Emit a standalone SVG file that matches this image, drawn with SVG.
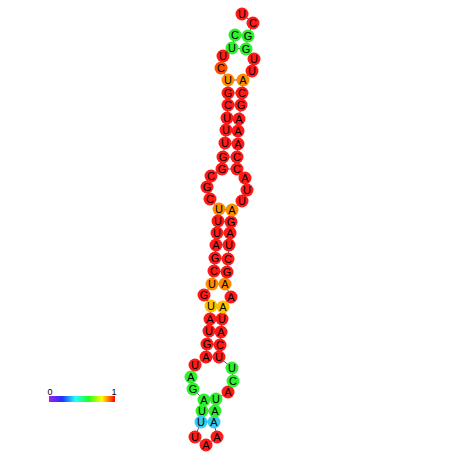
<svg xmlns="http://www.w3.org/2000/svg" width="452" height="452" viewBox="0 0 452 452">
<style>
.bb{stroke:#333;stroke-width:0.8;fill:none}
.pr{stroke:#333;stroke-width:0.8}
circle{stroke-width:0}
.r{fill:#ff1a1a}.o{fill:#ff8c00}.or{fill:#ff4d00}.y{fill:#ffbf00}.g{fill:#2ef02e}.c{fill:#33ccee}
text{font-family:"Liberation Sans",Arial,sans-serif;font-size:11px;fill:#000;text-anchor:middle;dominant-baseline:central}
</style>
<defs>
<linearGradient id="cb" x1="0" x2="1" y1="0" y2="0">
<stop offset="0" stop-color="#a020f0"/><stop offset="0.2" stop-color="#2030ff"/><stop offset="0.4" stop-color="#20ffff"/><stop offset="0.6" stop-color="#20ff20"/><stop offset="0.8" stop-color="#ffff00"/><stop offset="1" stop-color="#ff0000"/>
</linearGradient>
</defs>
<rect width="452" height="452" fill="#fff"/>
<g id="connectors">
<polyline class="bb" points="235,35 232,48 223,56 221,68 228,80 228,93 228,105 227,118 226,130 225,143 223,157 222,169 211,176 207,187 210,199 219,209 218,221 217,233 216,245 215,258 214,271 212,284 204,295 211,306 210,319 209,331 207,344 206,357 195,365 191,377 193,389 204,400 202,411 201,422 195,437 206,445 217,437 214,422 215,411 216,399 228,392 233,381 232,368 219,357 220,345 221,332 222,319 223,307 231,297 225,284 227,272 228,259 229,245 230,233 231,222 232,210 242,201 247,190 245,178 237,169 237,157 238,144 238,131 239,119 241,105 242,93 243,80 252,71 254,59 246,49 248,36 253,23 242,14"/>
<line class="pr" x1="235" y1="35" x2="248" y2="36"/>
<line class="pr" x1="232" y1="48" x2="246" y2="49"/>
<line class="pr" x1="228" y1="80" x2="243" y2="80"/>
<line class="pr" x1="228" y1="93" x2="242" y2="93"/>
<line class="pr" x1="228" y1="105" x2="241" y2="105"/>
<line class="pr" x1="227" y1="118" x2="239" y2="119"/>
<line class="pr" x1="226" y1="130" x2="238" y2="131"/>
<line class="pr" x1="225" y1="143" x2="238" y2="144"/>
<line class="pr" x1="223" y1="157" x2="237" y2="157"/>
<line class="pr" x1="222" y1="169" x2="237" y2="169"/>
<line class="pr" x1="219" y1="209" x2="232" y2="210"/>
<line class="pr" x1="218" y1="221" x2="231" y2="222"/>
<line class="pr" x1="217" y1="233" x2="230" y2="233"/>
<line class="pr" x1="216" y1="245" x2="229" y2="245"/>
<line class="pr" x1="215" y1="258" x2="228" y2="259"/>
<line class="pr" x1="214" y1="271" x2="227" y2="272"/>
<line class="pr" x1="212" y1="284" x2="225" y2="284"/>
<line class="pr" x1="211" y1="306" x2="223" y2="307"/>
<line class="pr" x1="210" y1="319" x2="222" y2="319"/>
<line class="pr" x1="209" y1="331" x2="221" y2="332"/>
<line class="pr" x1="207" y1="344" x2="220" y2="345"/>
<line class="pr" x1="206" y1="357" x2="219" y2="357"/>
<line class="pr" x1="204" y1="400" x2="216" y2="399"/>
<line class="pr" x1="202" y1="411" x2="215" y2="411"/>
<line class="pr" x1="201" y1="422" x2="214" y2="422"/>
</g>
<g id="n1"><circle class="g" cx="235" cy="35" r="6.5"/><text x="235" y="35">C</text></g>
<g id="n2"><circle class="g" cx="232" cy="48" r="6.5"/><text x="232" y="48">U</text></g>
<g id="n3"><circle class="r" cx="223" cy="56" r="6.5"/><text x="223" y="56">U</text></g>
<g id="n4"><circle class="or" cx="221" cy="68" r="6.5"/><text x="221" y="68">C</text></g>
<g id="n5"><circle class="o" cx="228" cy="80" r="6.5"/><text x="228" y="80">U</text></g>
<g id="n6"><circle class="r" cx="228" cy="93" r="6.5"/><text x="228" y="93">G</text></g>
<g id="n7"><circle class="r" cx="228" cy="105" r="6.5"/><text x="228" y="105">C</text></g>
<g id="n8"><circle class="r" cx="227" cy="118" r="6.5"/><text x="227" y="118">U</text></g>
<g id="n9"><circle class="r" cx="226" cy="130" r="6.5"/><text x="226" y="130">U</text></g>
<g id="n10"><circle class="r" cx="225" cy="143" r="6.5"/><text x="225" y="143">U</text></g>
<g id="n11"><circle class="r" cx="223" cy="157" r="6.5"/><text x="223" y="157">G</text></g>
<g id="n12"><circle class="r" cx="222" cy="169" r="6.5"/><text x="222" y="169">G</text></g>
<g id="n13"><circle class="r" cx="211" cy="176" r="6.5"/><text x="211" y="176">C</text></g>
<g id="n14"><circle class="r" cx="207" cy="187" r="6.5"/><text x="207" y="187">G</text></g>
<g id="n15"><circle class="r" cx="210" cy="199" r="6.5"/><text x="210" y="199">C</text></g>
<g id="n16"><circle class="o" cx="219" cy="209" r="6.5"/><text x="219" y="209">U</text></g>
<g id="n17"><circle class="r" cx="218" cy="221" r="6.5"/><text x="218" y="221">U</text></g>
<g id="n18"><circle class="r" cx="217" cy="233" r="6.5"/><text x="217" y="233">U</text></g>
<g id="n19"><circle class="r" cx="216" cy="245" r="6.5"/><text x="216" y="245">A</text></g>
<g id="n20"><circle class="r" cx="215" cy="258" r="6.5"/><text x="215" y="258">G</text></g>
<g id="n21"><circle class="r" cx="214" cy="271" r="6.5"/><text x="214" y="271">C</text></g>
<g id="n22"><circle class="o" cx="212" cy="284" r="6.5"/><text x="212" y="284">U</text></g>
<g id="n23"><circle class="r" cx="204" cy="295" r="6.5"/><text x="204" y="295">G</text></g>
<g id="n24"><circle class="y" cx="211" cy="306" r="6.5"/><text x="211" y="306">U</text></g>
<g id="n25"><circle class="r" cx="210" cy="319" r="6.5"/><text x="210" y="319">A</text></g>
<g id="n26"><circle class="r" cx="209" cy="331" r="6.5"/><text x="209" y="331">U</text></g>
<g id="n27"><circle class="r" cx="207" cy="344" r="6.5"/><text x="207" y="344">G</text></g>
<g id="n28"><circle class="r" cx="206" cy="357" r="6.5"/><text x="206" y="357">A</text></g>
<g id="n29"><circle class="r" cx="195" cy="365" r="6.5"/><text x="195" y="365">U</text></g>
<g id="n30"><circle class="g" cx="191" cy="377" r="6.5"/><text x="191" y="377">A</text></g>
<g id="n31"><circle class="g" cx="193" cy="389" r="6.5"/><text x="193" y="389">G</text></g>
<g id="n32"><circle class="g" cx="204" cy="400" r="6.5"/><text x="204" y="400">A</text></g>
<g id="n33"><circle class="g" cx="202" cy="411" r="6.5"/><text x="202" y="411">U</text></g>
<g id="n34"><circle class="c" cx="201" cy="422" r="6.5"/><text x="201" y="422">U</text></g>
<g id="n35"><circle class="r" cx="195" cy="437" r="6.5"/><text x="195" y="437">U</text></g>
<g id="n36"><circle class="r" cx="206" cy="445" r="6.5"/><text x="206" y="445">A</text></g>
<g id="n37"><circle class="r" cx="217" cy="437" r="6.5"/><text x="217" y="437">A</text></g>
<g id="n38"><circle class="c" cx="214" cy="422" r="6.5"/><text x="214" y="422">A</text></g>
<g id="n39"><circle class="g" cx="215" cy="411" r="6.5"/><text x="215" y="411">A</text></g>
<g id="n40"><circle class="g" cx="216" cy="399" r="6.5"/><text x="216" y="399">U</text></g>
<g id="n41"><circle class="r" cx="228" cy="392" r="6.5"/><text x="228" y="392">A</text></g>
<g id="n42"><circle class="g" cx="233" cy="381" r="6.5"/><text x="233" y="381">C</text></g>
<g id="n43"><circle class="g" cx="232" cy="368" r="6.5"/><text x="232" y="368">U</text></g>
<g id="n44"><circle class="r" cx="219" cy="357" r="6.5"/><text x="219" y="357">U</text></g>
<g id="n45"><circle class="r" cx="220" cy="345" r="6.5"/><text x="220" y="345">C</text></g>
<g id="n46"><circle class="r" cx="221" cy="332" r="6.5"/><text x="221" y="332">A</text></g>
<g id="n47"><circle class="r" cx="222" cy="319" r="6.5"/><text x="222" y="319">U</text></g>
<g id="n48"><circle class="y" cx="223" cy="307" r="6.5"/><text x="223" y="307">A</text></g>
<g id="n49"><circle class="r" cx="231" cy="297" r="6.5"/><text x="231" y="297">A</text></g>
<g id="n50"><circle class="o" cx="225" cy="284" r="6.5"/><text x="225" y="284">A</text></g>
<g id="n51"><circle class="r" cx="227" cy="272" r="6.5"/><text x="227" y="272">G</text></g>
<g id="n52"><circle class="r" cx="228" cy="259" r="6.5"/><text x="228" y="259">C</text></g>
<g id="n53"><circle class="r" cx="229" cy="245" r="6.5"/><text x="229" y="245">U</text></g>
<g id="n54"><circle class="r" cx="230" cy="233" r="6.5"/><text x="230" y="233">A</text></g>
<g id="n55"><circle class="r" cx="231" cy="222" r="6.5"/><text x="231" y="222">G</text></g>
<g id="n56"><circle class="o" cx="232" cy="210" r="6.5"/><text x="232" y="210">A</text></g>
<g id="n57"><circle class="r" cx="242" cy="201" r="6.5"/><text x="242" y="201">U</text></g>
<g id="n58"><circle class="r" cx="247" cy="190" r="6.5"/><text x="247" y="190">U</text></g>
<g id="n59"><circle class="r" cx="245" cy="178" r="6.5"/><text x="245" y="178">A</text></g>
<g id="n60"><circle class="r" cx="237" cy="169" r="6.5"/><text x="237" y="169">C</text></g>
<g id="n61"><circle class="r" cx="237" cy="157" r="6.5"/><text x="237" y="157">C</text></g>
<g id="n62"><circle class="r" cx="238" cy="144" r="6.5"/><text x="238" y="144">A</text></g>
<g id="n63"><circle class="r" cx="238" cy="131" r="6.5"/><text x="238" y="131">A</text></g>
<g id="n64"><circle class="r" cx="239" cy="119" r="6.5"/><text x="239" y="119">A</text></g>
<g id="n65"><circle class="r" cx="241" cy="105" r="6.5"/><text x="241" y="105">G</text></g>
<g id="n66"><circle class="r" cx="242" cy="93" r="6.5"/><text x="242" y="93">C</text></g>
<g id="n67"><circle class="o" cx="243" cy="80" r="6.5"/><text x="243" y="80">A</text></g>
<g id="n68"><circle class="r" cx="252" cy="71" r="6.5"/><text x="252" y="71">U</text></g>
<g id="n69"><circle class="r" cx="254" cy="59" r="6.5"/><text x="254" y="59">U</text></g>
<g id="n70"><circle class="g" cx="246" cy="49" r="6.5"/><text x="246" y="49">G</text></g>
<g id="n71"><circle class="g" cx="248" cy="36" r="6.5"/><text x="248" y="36">G</text></g>
<g id="n72"><circle class="r" cx="253" cy="23" r="6.5"/><text x="253" y="23">C</text></g>
<g id="n73"><circle class="r" cx="242" cy="14" r="6.5"/><text x="242" y="14">U</text></g>
<g id="legend">
<rect x="49" y="396" width="66" height="6" fill="url(#cb)"/>
<text x="50" y="392" style="font-size:9px">0</text>
<text x="114" y="392" style="font-size:9px">1</text>
</g>
</svg>
